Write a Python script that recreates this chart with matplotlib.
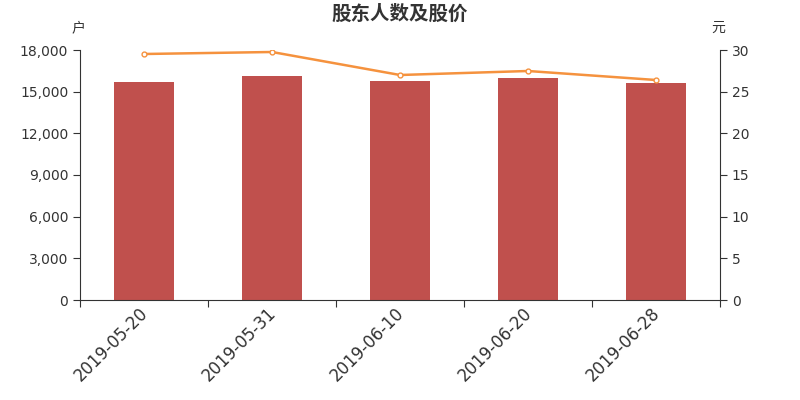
import matplotlib
matplotlib.use("Agg")
import matplotlib.pyplot as plt
import matplotlib.transforms as mtransforms
import numpy as np

plt.rcParams['font.family'] = ['DejaVu Sans', 'Noto Sans CJK SC']

# 数据
dates = ["2019-05-20", "2019-05-31", "2019-06-10", "2019-06-20", "2019-06-28"]
holders = [15700, 16100, 15770, 15980, 15620]
price = [29.52, 29.76, 27.0, 27.48, 26.4]

fig = plt.figure(figsize=(8, 4), dpi=100)
ax = fig.add_axes([0.1, 0.25, 0.8, 0.625])
x = np.arange(len(dates))

ax.bar(x, holders, width=0.47, color="#c0504d", zorder=2)
ax.set_xlim(-0.5, len(dates) - 0.5)
ax.set_ylim(0, 18000)
ax.set_yticks(np.arange(0, 18001, 3000))
ax.yaxis.set_major_formatter(matplotlib.ticker.FuncFormatter(lambda v, p: f"{int(v):,}"))
ax.set_xticks(np.arange(-0.5, len(dates)), minor=False)
ax.set_xticklabels([])
ax.set_xticks(x, minor=True)
ax.set_xticklabels(dates, minor=True, rotation=45, ha="right", va="top",
                   rotation_mode="anchor", fontsize=12, color="#333333")
ax.tick_params(axis="x", which="minor", length=0, pad=5)
ax.tick_params(axis="x", which="major", length=5, color="#333333")
ax.tick_params(axis="y", labelsize=10, colors="#333333", length=5)
ax.spines["top"].set_visible(False)
ax.spines["right"].set_visible(False)
for s in ["left", "bottom"]:
    ax.spines[s].set_color("#333333")

# 日期标签往左上挪一点
off = mtransforms.ScaledTranslation(-0.05, 0.03, fig.dpi_scale_trans)
for lbl in ax.get_xticklabels(minor=True):
    lbl.set_transform(lbl.get_transform() + off)

ax2 = ax.twinx()
ax2.plot(x, price, color="#f5923e", lw=1.8, marker="o", markersize=3.5,
         markerfacecolor="white", markeredgecolor="#f5923e", markeredgewidth=1, zorder=3)
ax2.set_ylim(0, 30)
ax2.set_yticks(np.arange(0, 31, 5))
ax2.tick_params(axis="y", labelsize=10, colors="#333333", length=5)
for s in ["top", "left", "bottom"]:
    ax2.spines[s].set_visible(False)
ax2.spines["right"].set_color("#333333")

fig.text(0.5, 0.965, "股东人数及股价", ha="center", va="center", fontsize=14,
         fontweight="bold", color="#333333", family=['Noto Sans CJK SC', 'DejaVu Sans'])
fig.text(0.098, 0.93, "户", ha="center", va="center", fontsize=10, color="#333333",
         family=['Noto Sans CJK SC', 'DejaVu Sans'])
fig.text(0.898, 0.93, "元", ha="center", va="center", fontsize=10, color="#333333",
         family=['Noto Sans CJK SC', 'DejaVu Sans'])

plt.savefig("out.png", dpi=100)
